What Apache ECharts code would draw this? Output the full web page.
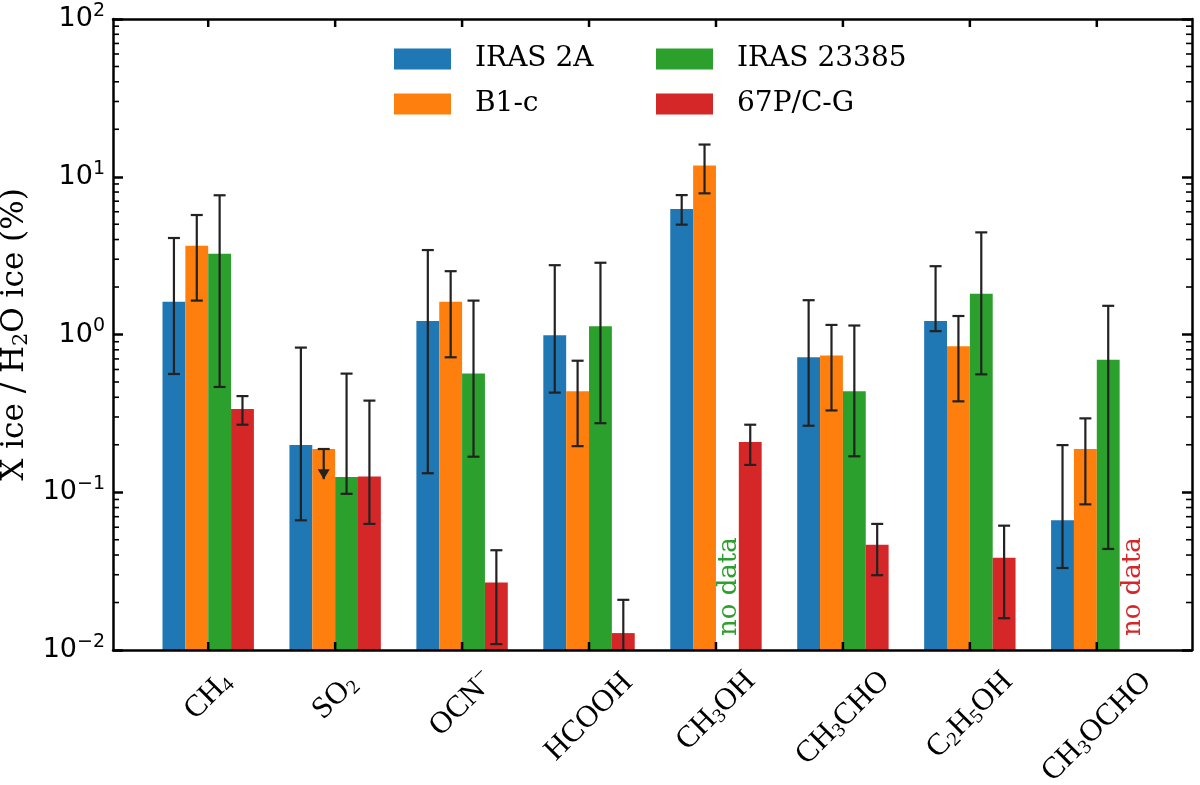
<!DOCTYPE html>
<html>
<head>
<meta charset="utf-8">
<script src="https://cdn.jsdelivr.net/npm/echarts@6/dist/echarts.min.js"></script>
<style>
  html, body { margin: 0; padding: 0; background: #fff; }
  #chart { width: 1200px; height: 785px; }
</style>
</head>
<body>
<div id="chart"></div>
<script>
// ---------------- data ----------------
const categories = ['CH4', 'SO2', 'OCN-', 'HCOOH', 'CH3OH', 'CH3CHO', 'C2H5OH', 'CH3OCHO'];
const categoryLabels = ['CH{s|4}', 'SO{s|2}', 'OCN{p|\u2212}', 'HCOOH', 'CH{s|3}OH', 'CH{s|3}CHO', 'C{s|2}H{s|5}OH', 'CH{s|3}OCHO'];
const seriesNames = ['IRAS 2A', 'B1-c', 'IRAS 23385', '67P/C-G'];

const iras2A   = [1.61, 0.199, 1.22, 0.99, 6.24, 0.718, 1.22, 0.0664];
const iras2ALo = [0.562, 0.0664, 0.132, 0.428, 4.97, 0.264, 1.05, 0.0331];
const iras2AHi = [4.09, 0.826, 3.43, 2.75, 7.65, 1.65, 2.71, 0.199];

const b1c   = [3.65, 0.188, 1.61, 0.437, 11.8, 0.737, 0.841, 0.188];
const b1cLo = [1.64, 0.121, 0.717, 0.196, 7.85, 0.330, 0.377, 0.0838];
const b1cHi = [5.72, 0.188, 2.52, 0.682, 16.0, 1.15, 1.31, 0.294];
const b1cUpperLimit = [0, 1, 0, 0, 0, 0, 0, 0];

const iras23385   = [3.25, 0.125, 0.565, 1.13, null, 0.437, 1.81, 0.692];
const iras23385Lo = [0.465, 0.0977, 0.168, 0.274, null, 0.169, 0.559, 0.0437];
const iras23385Hi = [7.63, 0.565, 1.64, 2.85, null, 1.14, 4.44, 1.52];

const comet   = [0.337, 0.126, 0.0268, 0.0128, 0.208, 0.0464, 0.0385, null];
const cometLo = [0.268, 0.063, 0.0109, 0.008, 0.149, 0.0298, 0.0159, null];
const cometHi = [0.407, 0.381, 0.0429, 0.0208, 0.268, 0.063, 0.0614, null];

// "no data" notes: [category index, series index]
const noDataNotes = [[4, 2], [7, 3]];

const categoryTicks = [0, 1, 2, 3, 4, 5, 6, 7];
const minorTickValues = [];
[0.01, 0.1, 1, 10].forEach(d => { for (let m = 2; m <= 9; m++) minorTickValues.push(+(m * d).toPrecision(3)); });

// ---------------- style ----------------
const colors = ['#1f77b4', '#ff7f0e', '#2ca02c', '#d62728'];
const barW = 0.18;
const offsets = [-0.27, -0.09, 0.09, 0.27];
const xMin = -0.75, xMax = 7.75, yMin = 0.01, yMax = 100;
const errColor = '#222222';
// distance from the axis to the centre of each rotated category label
const labelMargins = [46, 47, 54, 67, 61, 68, 65, 77];

function barSeries(k, vals, lo, hi, upl) {
  const data = [];
  vals.forEach((v, i) => {
    if (v != null) data.push([i, v, lo[i], hi[i], upl ? upl[i] : 0]);
  });
  return {
    type: 'custom',
    name: seriesNames[k],
    itemStyle: { color: colors[k] },
    encode: { x: 0, y: 1 },
    z: 2,
    data: data,
    renderItem: function (params, api) {
      const i = api.value(0), v = api.value(1), l = api.value(2), h = api.value(3), ul = api.value(4);
      const xc = i + offsets[k];
      const left = api.coord([xc - barW / 2, v]);
      const right = api.coord([xc + barW / 2, v]);
      const base = api.coord([xc, yMin]);
      const cx = (left[0] + right[0]) / 2;
      const children = [{
        type: 'rect',
        shape: { x: left[0], y: left[1], width: right[0] - left[0], height: base[1] - left[1] },
        style: { fill: colors[k] }
      }];
      const yHi = api.coord([xc, h])[1];
      let yLo = api.coord([xc, l])[1];
      const clipped = yLo > base[1];
      if (clipped) yLo = base[1];
      const es = { stroke: errColor, lineWidth: 2.2 };
      children.push({ type: 'line', shape: { x1: cx, y1: yHi, x2: cx, y2: yLo }, style: es });
      children.push({ type: 'line', shape: { x1: cx - 6, y1: yHi, x2: cx + 6, y2: yHi }, style: es });
      if (ul) {
        children.push({ type: 'polygon', shape: { points: [[cx - 6, yLo - 10], [cx + 6, yLo - 10], [cx, yLo]] }, style: { fill: errColor } });
      } else if (!clipped) {
        children.push({ type: 'line', shape: { x1: cx - 6, y1: yLo, x2: cx + 6, y2: yLo }, style: es });
      }
      return { type: 'group', children: children };
    }
  };
}

const series = [
  barSeries(0, iras2A, iras2ALo, iras2AHi, null),
  barSeries(1, b1c, b1cLo, b1cHi, b1cUpperLimit),
  barSeries(2, iras23385, iras23385Lo, iras23385Hi, null),
  barSeries(3, comet, cometLo, cometHi, null),
  {
    type: 'custom',
    name: 'noData',
    silent: true,
    z: 3,
    encode: { x: 0, y: 1 },
    data: noDataNotes.map(n => [n[0], yMin, n[1]]),
    renderItem: function (params, api) {
      const i = api.value(0), k = api.value(2);
      const p = api.coord([i + offsets[k], yMin]);
      return {
        type: 'text',
        x: p[0] + 2, y: p[1] - 14, rotation: Math.PI / 2,
        style: {
          text: 'no data', fill: colors[k], font: '26px "DejaVu Serif"',
          align: 'left', verticalAlign: 'middle'
        }
      };
    }
  },
  {
    type: 'custom',
    name: 'minorTicks',
    silent: true,
    z: 5,
    encode: { x: 0, y: 1 },
    data: minorTickValues.map(v => [xMin, v]),
    renderItem: function (params, api) {
      const v = api.value(1);
      const pl = api.coord([xMin, v]);
      const pr = api.coord([xMax, v]);
      const st = { stroke: '#000', lineWidth: 1.6 };
      return {
        type: 'group',
        children: [
          { type: 'line', shape: { x1: pl[0], y1: pl[1], x2: pl[0] + 6, y2: pl[1] }, style: st },
          { type: 'line', shape: { x1: pr[0], y1: pr[1], x2: pr[0] - 6, y2: pr[1] }, style: st }
        ]
      };
    }
  },
  {
    type: 'custom',
    name: 'categoryTicks',
    silent: true,
    z: 5,
    encode: { x: 0, y: 1 },
    data: categoryTicks.map(c => [c, yMin]),
    renderItem: function (params, api) {
      const c = api.value(0);
      const pb = api.coord([c, yMin]);
      const pt = api.coord([c, yMax]);
      const st = { stroke: '#000', lineWidth: 2.5 };
      return {
        type: 'group',
        children: [
          { type: 'line', shape: { x1: pb[0], y1: pb[1], x2: pb[0], y2: pb[1] - 8 }, style: st },
          { type: 'line', shape: { x1: pt[0], y1: pt[1], x2: pt[0], y2: pt[1] + 8 }, style: st }
        ]
      };
    }
  }
];

const legendCommon = {
  orient: 'vertical',
  icon: 'rect',
  padding: 0,
  itemWidth: 57,
  itemHeight: 21,
  itemGap: 13,
  selectedMode: false,
  textStyle: { fontFamily: 'DejaVu Serif', fontSize: 28, color: '#000', lineHeight: 32, padding: [0, 0, 0, 19] }
};

const frameLine = { onZero: false, lineStyle: { color: '#000', width: 2.5 } };

const xAxes = [
  {
    type: 'value', min: xMin, max: xMax, position: 'bottom', z: 10,
    splitLine: { show: false },
    axisLine: frameLine,
    axisTick: { show: false },
    axisLabel: { show: false }
  },
  {
    type: 'value', min: xMin, max: xMax, position: 'top', z: 10,
    splitLine: { show: false },
    axisLine: frameLine,
    axisTick: { show: false },
    axisLabel: { show: false }
  }
];
// one label-only axis per category so each rotated label can sit at its own distance
categoryTicks.forEach((c, i) => {
  xAxes.push({
    type: 'value', min: xMin, max: xMax, position: 'bottom',
    splitLine: { show: false },
    axisLine: { show: false, onZero: false },
    axisTick: { show: false },
    axisLabel: {
      customValues: [c],
      formatter: v => categoryLabels[Math.round(v)],
      rotate: 45, align: 'center', verticalAlign: 'middle', margin: labelMargins[i],
      fontFamily: 'Liberation Serif', fontSize: 31, color: '#000',
      rich: {
        s: { fontFamily: 'Liberation Serif', fontSize: 20, padding: [13, 0, 0, 0] },
        p: { fontFamily: 'Liberation Serif', fontSize: 21, padding: [0, 0, 17, 0] }
      }
    }
  });
});

const chart = echarts.init(document.getElementById('chart'), null, { renderer: 'canvas' });
chart.setOption({
  animation: false,
  backgroundColor: '#fff',
  grid: { left: 113, right: 8, top: 19, bottom: 135, containLabel: false, outerBoundsMode: 'none' },
  legend: [
    Object.assign({ left: 394, top: 43, data: [seriesNames[0], seriesNames[1]] }, legendCommon),
    Object.assign({ left: 656, top: 43, data: [seriesNames[2], seriesNames[3]] }, legendCommon)
  ],
  xAxis: xAxes,
  yAxis: [
    {
      type: 'log', logBase: 10, min: yMin, max: yMax, position: 'left', z: 10,
      splitLine: { show: false },
      axisLine: Object.assign({ show: true }, frameLine),
      axisTick: { show: true, inside: true, length: 10, lineStyle: { width: 2.5, color: '#000' } },
      axisLabel: {
        margin: 8, color: '#000', fontFamily: 'DejaVu Sans', fontSize: 27,
        formatter: v => {
          const e = Math.round(Math.log10(v));
          return '10{sup|' + (e < 0 ? '\u2212' + (-e) : e) + '}';
        },
        rich: { sup: { fontFamily: 'DejaVu Sans', fontSize: 19, padding: [0, 0, 16, 0] } }
      },
      name: 'X ice / H{sub|2}O ice (%)',
      nameLocation: 'middle',
      nameGap: 76,
      nameTextStyle: {
        fontFamily: 'DejaVu Serif', fontSize: 31, color: '#000',
        rich: { sub: { fontFamily: 'DejaVu Serif', fontSize: 21, padding: [12, 0, 0, 0] } }
      }
    },
    {
      type: 'log', logBase: 10, min: yMin, max: yMax, position: 'right', z: 10,
      splitLine: { show: false },
      axisLine: Object.assign({ show: true }, frameLine),
      axisTick: { show: true, inside: true, length: 10, lineStyle: { width: 2.5, color: '#000' } },
      axisLabel: { show: false }
    }
  ],
  series: series
});
</script>
</body>
</html>
